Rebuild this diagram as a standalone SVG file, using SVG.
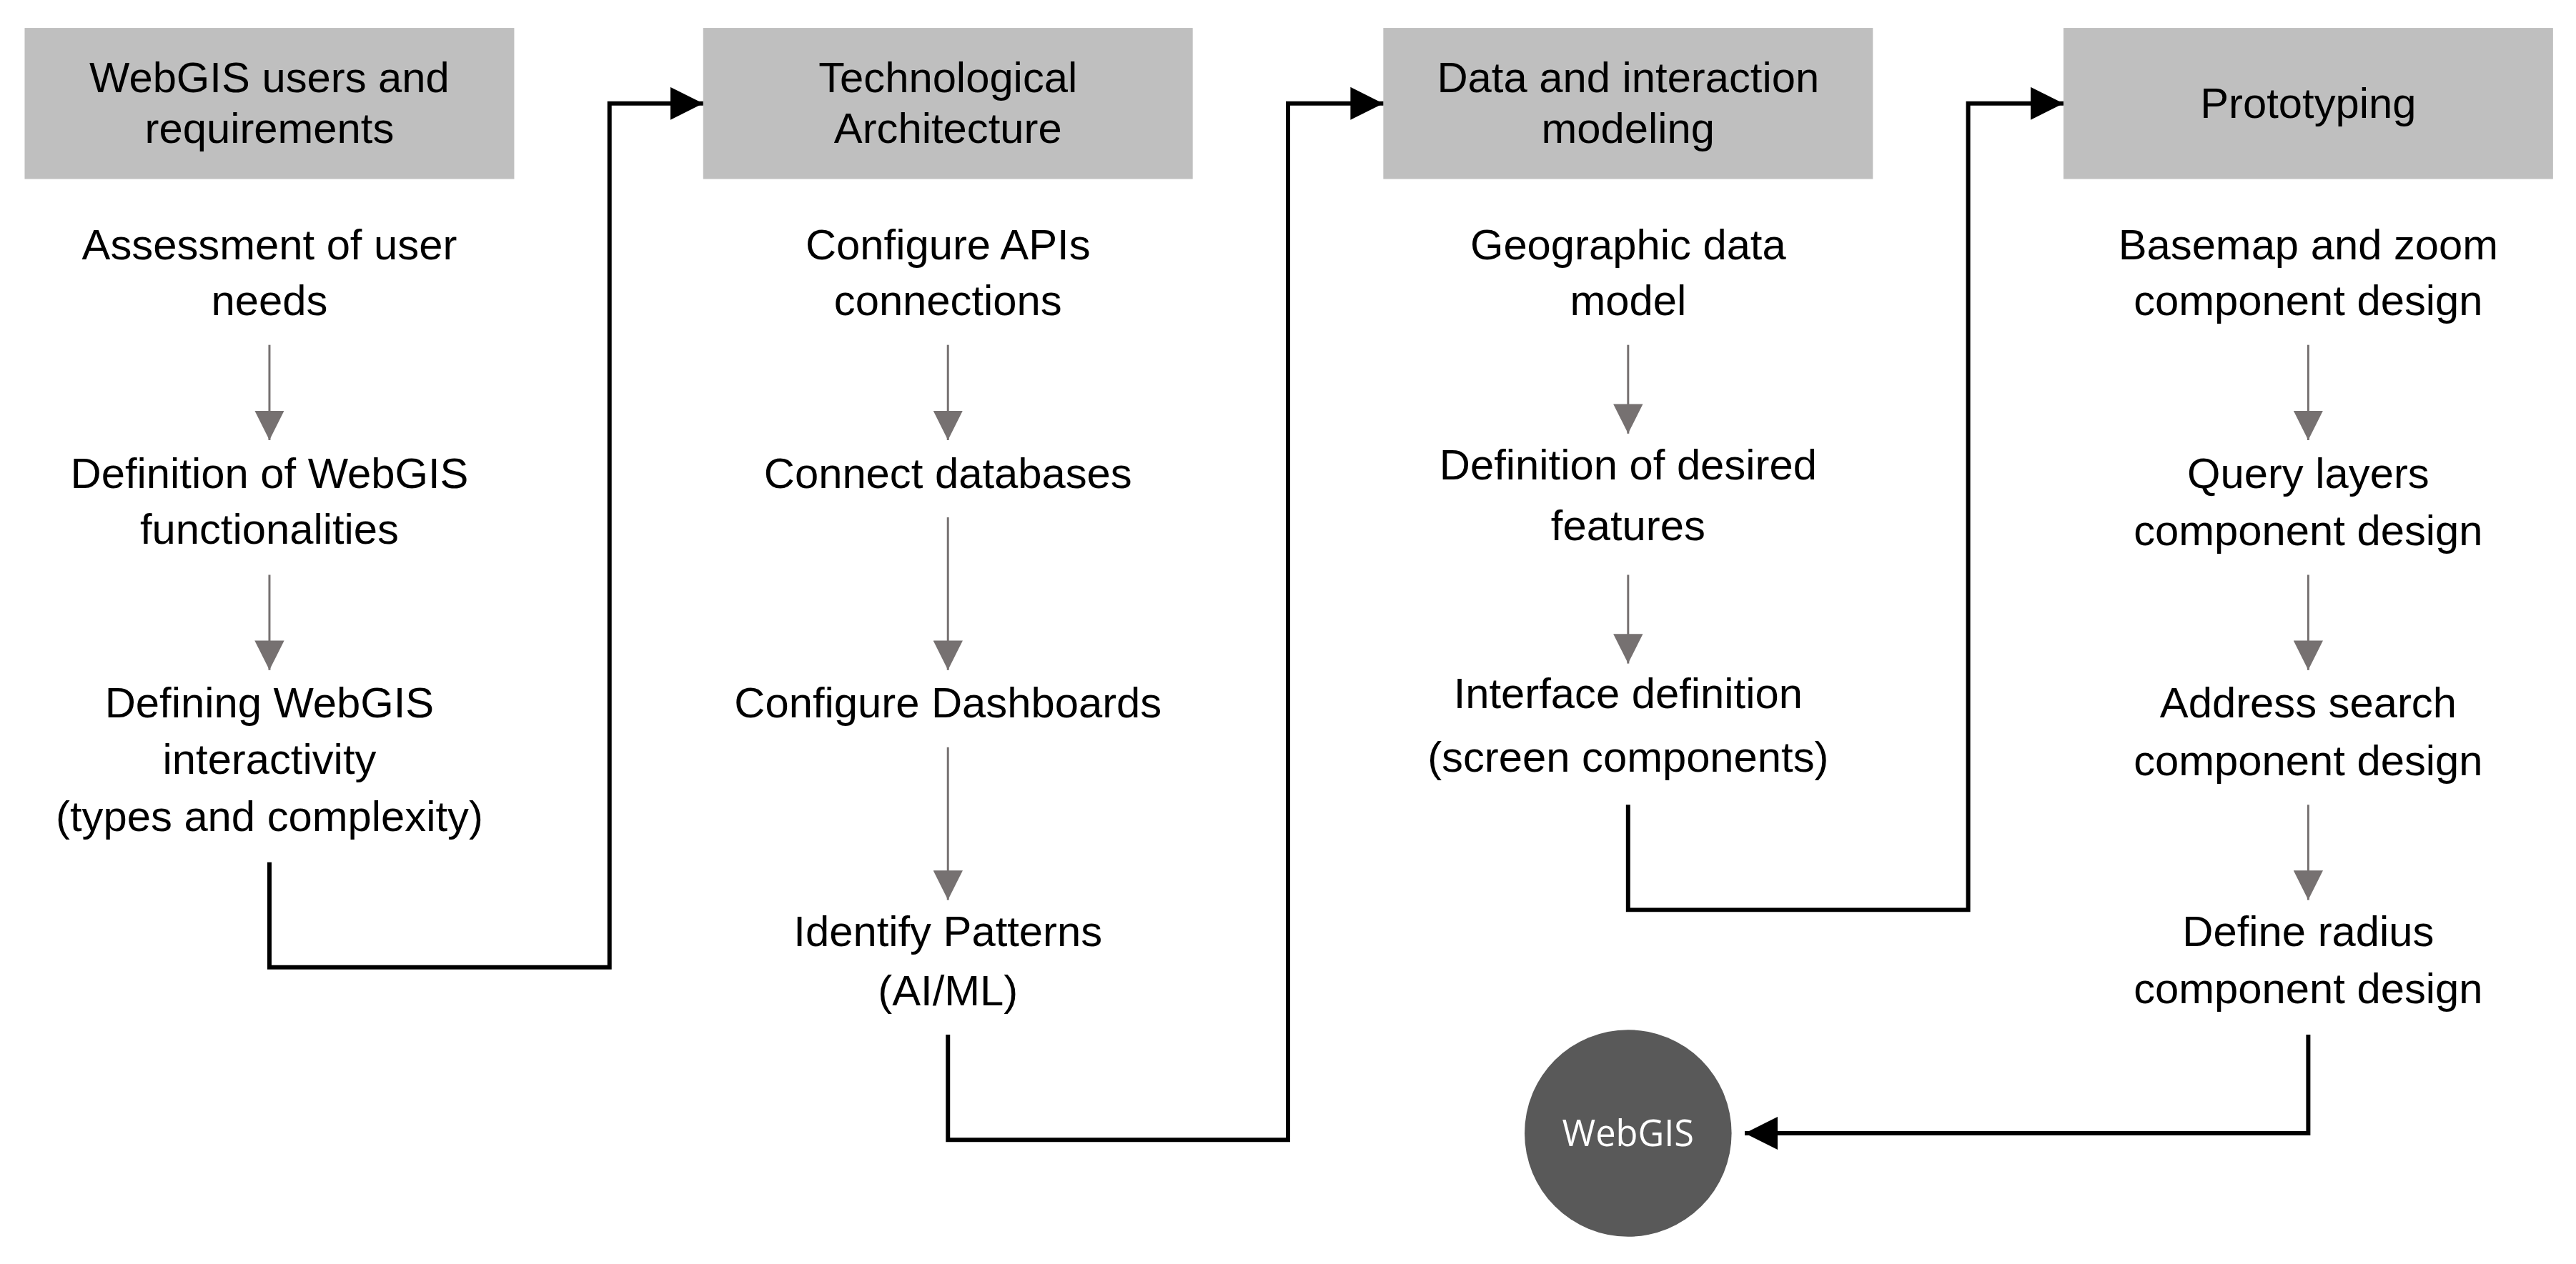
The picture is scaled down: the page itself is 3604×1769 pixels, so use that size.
<svg xmlns="http://www.w3.org/2000/svg" width="3604" height="1769" viewBox="0 0 3604 1769">
<style>
.h{fill:#bfbfbf}
text{font-family:"Liberation Sans",Arial,sans-serif;font-size:26px;text-anchor:middle;fill:#000}
.g{stroke:#767171;stroke-width:1.3;fill:none}
.k{stroke:#000;stroke-width:2.6;fill:none}
.w{font-family:"Open Sans","Noto Sans",sans-serif;font-size:22px;fill:#fff}
</style>
<defs>
<marker id="ga" markerWidth="18" markerHeight="18" refX="18" refY="9" orient="auto" markerUnits="userSpaceOnUse"><path d="M0,0 L18,9 L0,18 Z" fill="#767171"/></marker>
<marker id="ka" markerWidth="20" markerHeight="20" refX="20" refY="10" orient="auto" markerUnits="userSpaceOnUse"><path d="M0,0 L20,10 L0,20 Z" fill="#000"/></marker>
</defs>
<rect width="3604" height="1769" fill="#fff"/>
<g transform="scale(2.2985)">
<g id="col1">
<rect class="h" x="15" y="17" width="298" height="92"/>
<text x="164" y="56">WebGIS users and</text><text x="164" y="87">requirements</text>
<text x="164" y="158">Assessment of user</text><text x="164" y="192">needs</text>
<text x="164" y="297">Definition of WebGIS</text><text x="164" y="331">functionalities</text>
<text x="164" y="437">Defining WebGIS</text><text x="164" y="471">interactivity</text><text x="164" y="506">(types and complexity)</text>
</g>
<g id="col2">
<rect class="h" x="428" y="17" width="298" height="92"/>
<text x="577" y="56">Technological</text><text x="577" y="87">Architecture</text>
<text x="577" y="158">Configure APIs</text><text x="577" y="192">connections</text>
<text x="577" y="297">Connect databases</text>
<text x="577" y="437">Configure Dashboards</text>
<text x="577" y="576">Identify Patterns</text><text x="577" y="612">(AI/ML)</text>
</g>
<g id="col3">
<rect class="h" x="842" y="17" width="298" height="92"/>
<text x="991" y="56">Data and interaction</text><text x="991" y="87">modeling</text>
<text x="991" y="158">Geographic data</text><text x="991" y="192">model</text>
<text x="991" y="292">Definition of desired</text><text x="991" y="329">features</text>
<text x="991" y="431">Interface definition</text><text x="991" y="470">(screen components)</text>
</g>
<g id="col4">
<rect class="h" x="1256" y="17" width="298" height="92"/>
<text x="1405" y="72">Prototyping</text>
<text x="1405" y="158">Basemap and zoom</text><text x="1405" y="192">component design</text>
<text x="1405" y="297">Query layers</text><text x="1405" y="332">component design</text>
<text x="1405" y="437">Address search</text><text x="1405" y="472">component design</text>
<text x="1405" y="576">Define radius</text><text x="1405" y="611">component design</text>
</g>
<g id="webgis">
<circle cx="991" cy="690" r="63" fill="#595959"/>
<text class="w" x="991" y="698">WebGIS</text>
</g>
<g id="connectors">
<path class="g" d="M164,210V268" marker-end="url(#ga)"/>
<path class="g" d="M164,350V408" marker-end="url(#ga)"/>
<path class="g" d="M577,210V268" marker-end="url(#ga)"/>
<path class="g" d="M577,315V408" marker-end="url(#ga)"/>
<path class="g" d="M577,455V548" marker-end="url(#ga)"/>
<path class="g" d="M991,210V264" marker-end="url(#ga)"/>
<path class="g" d="M991,350V404" marker-end="url(#ga)"/>
<path class="g" d="M1405,210V268" marker-end="url(#ga)"/>
<path class="g" d="M1405,350V408" marker-end="url(#ga)"/>
<path class="g" d="M1405,490V548" marker-end="url(#ga)"/>
<path class="k" d="M164,525V589H371V63H428" marker-end="url(#ka)"/>
<path class="k" d="M577,630V694H784V63H842" marker-end="url(#ka)"/>
<path class="k" d="M991,490V554H1198V63H1256" marker-end="url(#ka)"/>
<path class="k" d="M1405,630V690H1062" marker-end="url(#ka)"/>
</g>
</g>
</svg>
